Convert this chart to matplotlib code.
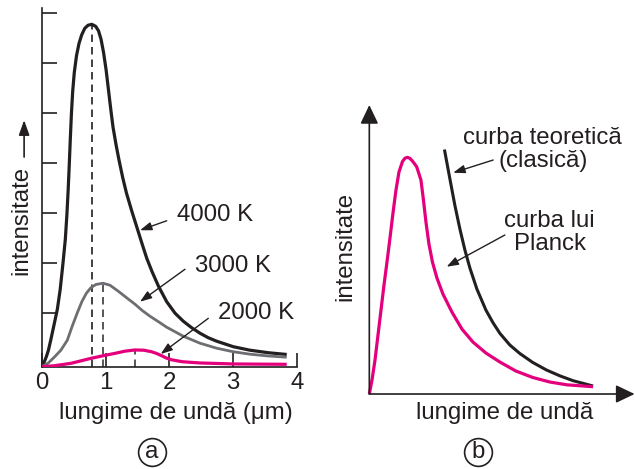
import numpy as np
import matplotlib
matplotlib.use('Agg')
from matplotlib import pyplot as plt

plt.rcParams['font.family'] = ['Liberation Sans', 'DejaVu Sans']

# panel (a): black body curves, wavelength in um, intensity in tick units
lam_4000 = [0, 0.035, 0.072, 0.105, 0.141, 0.19, 0.245, 0.29, 0.334, 0.37, 0.395, 0.415, 0.432,
            0.448, 0.465, 0.485, 0.51, 0.545, 0.585, 0.627, 0.675, 0.725, 0.784, 0.845, 0.89,
            0.93, 0.97, 1.01, 1.047, 1.085, 1.118, 1.165, 1.212, 1.27, 1.329, 1.41, 1.489, 1.57,
            1.646, 1.73, 1.83, 1.959, 2.09, 2.219, 2.35, 2.481, 2.61, 2.743, 3.003, 3.265, 3.55, 3.84]
int_4000 = [0, 0.08, 0.20, 0.33, 0.53, 0.82, 1.15, 1.55, 2.08, 2.55, 3.05, 3.55, 4.05,
            4.55, 5.05, 5.50, 5.88, 6.22, 6.47, 6.64, 6.77, 6.83, 6.85, 6.81, 6.72,
            6.55, 6.28, 5.93, 5.53, 5.12, 4.79, 4.44, 4.13, 3.78, 3.47, 3.12, 2.80, 2.47,
            2.17, 1.90, 1.61, 1.30, 1.07, 0.91, 0.78, 0.67, 0.58, 0.51, 0.40, 0.33, 0.28, 0.245]

lam_3000 = [0, 0.1, 0.204, 0.3, 0.401, 0.475, 0.558, 0.632, 0.70, 0.77, 0.85, 0.961, 1.07, 1.2,
            1.33, 1.462, 1.58, 1.697, 1.83, 1.959, 2.219, 2.481, 2.743, 3.0, 3.265, 3.55, 3.84]
int_3000 = [0, 0.07, 0.20, 0.33, 0.53, 0.80, 1.08, 1.31, 1.47, 1.58, 1.645, 1.67, 1.63, 1.51,
            1.38, 1.25, 1.12, 1.01, 0.90, 0.79, 0.61, 0.47, 0.37, 0.30, 0.25, 0.215, 0.19]

lam_2000 = [0, 0.2, 0.46, 0.78, 1.0, 1.14, 1.30, 1.46, 1.60, 1.72, 1.80, 1.88, 1.95, 2.03, 2.20,
            2.48, 3.0, 3.84]
int_2000 = [0, 0.02, 0.068, 0.17, 0.23, 0.265, 0.31, 0.335, 0.33, 0.30, 0.265, 0.22, 0.175, 0.14,
            0.10, 0.075, 0.055, 0.048]

temp_labels = ['4000 K', '3000 K', '2000 K']
x_ticks = [0, 1, 2, 3, 4]

# panel (b): Planck curve vs classical curve, arbitrary units
x_planck = [0, 0.135, 0.285, 0.435, 0.585, 0.735, 0.885, 1.035, 1.185, 1.335, 1.485, 1.66, 1.785,
            1.90, 2.02, 2.16, 2.37, 2.585, 2.71, 2.835, 2.985, 3.16, 3.385, 3.685, 4.135, 4.635,
            5.185, 5.835, 6.535, 7.335, 8.185, 9.035, 9.885, 11.2]
y_planck = [0, 0.70, 1.70, 2.95, 4.20, 5.45, 6.60, 7.80, 9.05, 10.20, 11.10, 11.625, 11.79,
            11.835, 11.79, 11.65, 11.365, 10.70, 9.70, 8.60, 7.50, 6.60, 5.80, 5.00, 4.10, 3.25,
            2.60, 2.05, 1.60, 1.15, 0.825, 0.60, 0.46, 0.365]

x_classic = [3.76, 4.035, 4.285, 4.535, 4.785, 5.035, 5.385, 5.835, 6.185, 6.535, 7.035, 7.535,
             8.185, 8.87, 9.535, 10.2, 11.2]
y_classic = [12.225, 10.75, 9.425, 8.25, 7.2, 6.3, 5.25, 4.2, 3.575, 3.035, 2.45, 2.025,
             1.575, 1.2, 0.91, 0.665, 0.4]

INK = '#231f20'
GREY = '#6d6e71'
MAGENTA = '#e4007c'
FS = 17.3

arrow = dict(arrowstyle='-|>,head_length=0.7,head_width=0.25', color=INK, lw=1.0,
             shrinkA=0, shrinkB=0, mutation_scale=10)

fig = plt.figure(figsize=(6.35, 4.69), dpi=100)

# ---- (a)
ax = fig.add_axes([0.0657, 0.2181, 0.4019, 0.7642])
ax.set_xlim(0, 4)
ax.set_ylim(0, 7.17)
for side in ['top', 'right']:
    ax.spines[side].set_visible(False)
for side in ['left', 'bottom']:
    ax.spines[side].set_color(INK)
    ax.spines[side].set_linewidth(1.2)

curves = [(lam_4000, int_4000, INK, 2.3), (lam_3000, int_3000, GREY, 2.0), (lam_2000, int_2000, MAGENTA, 2.3)]
for lam, inten, col, lw in curves:
    ax.plot(lam, inten, color=col, lw=lw, solid_capstyle='butt', solid_joinstyle='round', zorder=3)
    k = int(np.argmax(inten))
    dash_col = INK if col == INK else '#3a3a3a'
    ax.vlines(lam[k], 0, inten[k], colors=dash_col, lw=1.2, linestyles=(0, (4.5, 3)), zorder=2)

ax.set_xticks(x_ticks)
ax.set_xticklabels([str(t) for t in x_ticks], fontsize=FS, color=INK)
ax.set_yticks(np.arange(1, 8) + 0.08)
ax.set_yticklabels([])
ax.tick_params(axis='x', direction='in', length=10, width=1.2, color=INK, pad=4)
ax.tick_params(axis='y', direction='in', length=10.8, width=1.2, color=INK)

ax.set_xlabel('lungime de undă (μm)', fontsize=FS, color=INK, va='center')
ax.xaxis.set_label_coords(0.526, -0.129)
ax.set_ylabel('intensitate', fontsize=FS, color=INK, va='center')
ax.yaxis.set_label_coords(-0.079, 0.407)
ax.annotate('', xy=(-0.069, 0.688), xytext=(-0.069, 0.585), xycoords='axes fraction',
            arrowprops=dict(arrowstyle='-|>,head_length=0.9,head_width=0.32', color=INK, lw=1.2,
                            shrinkA=0, shrinkB=0, mutation_scale=10), annotation_clip=False)

label_pos = [((2.116, 3.03), (1.959, 2.92), (1.541, 2.73)),
             ((2.403, 2.01), (2.246, 1.95), (1.541, 1.30)),
             ((2.768, 1.08), (2.611, 0.968), (1.865, 0.254))]
for name, (txt, start, tip) in zip(temp_labels, label_pos):
    ax.text(txt[0], txt[1], name, fontsize=FS, color=INK, ha='left', va='center')
    ax.annotate('', xy=tip, xytext=start, arrowprops=arrow)

ax.plot([1.729], [-1.706], 'o', ms=20, mfc='none', mec=INK, mew=1.2, clip_on=False)
ax.text(1.729, -1.706, 'a', fontsize=FS, color=INK, ha='center', va='center')

# ---- (b)
bx = fig.add_axes([0.5816, 0.1599, 0.4184, 0.6183])
bx.set_xlim(0, 13.3)
bx.set_ylim(0, 14.5)
bx.axis('off')
axis_arrow = dict(arrowstyle='-|>,head_length=1.15,head_width=0.55', color=INK, lw=1.2,
                  shrinkA=0, shrinkB=0, mutation_scale=10)
bx.annotate('', xy=(13.28, 0), xytext=(0, 0), arrowprops=axis_arrow, annotation_clip=False)
bx.annotate('', xy=(0, 14.45), xytext=(0, 0), arrowprops=axis_arrow, annotation_clip=False)

bx.plot(x_classic, y_classic, color=INK, lw=2.2, solid_capstyle='butt', solid_joinstyle='round',
        clip_on=False)
bx.plot(x_planck, y_planck, color=MAGENTA, lw=2.3, solid_capstyle='butt', solid_joinstyle='round',
        clip_on=False)

bx.text(-1.215, 7.37, 'intensitate', fontsize=FS, color=INK, rotation=90, ha='center', va='center')
bx.text(6.785, -0.965, 'lungime de undă', fontsize=FS, color=INK, ha='center', va='center')
bx.text(8.685, 12.24, 'curba teoretică\n(clasică)', fontsize=FS, color=INK, ha='center', va='center',
        linespacing=1.05)
bx.text(9.035, 8.075, 'curba lui\nPlanck', fontsize=FS, color=INK, ha='center', va='center',
        linespacing=1.05)
bx.annotate('', xy=(4.2, 11.065), xytext=(6.2, 11.7), arrowprops=arrow)
bx.annotate('', xy=(3.87, 6.365), xytext=(6.785, 7.95), arrowprops=arrow)

bx.plot([5.45], [-2.885], 'o', ms=20, mfc='none', mec=INK, mew=1.2, clip_on=False)
bx.text(5.45, -2.885, 'b', fontsize=FS, color=INK, ha='center', va='center')

fig.savefig('out.png', dpi=100)
